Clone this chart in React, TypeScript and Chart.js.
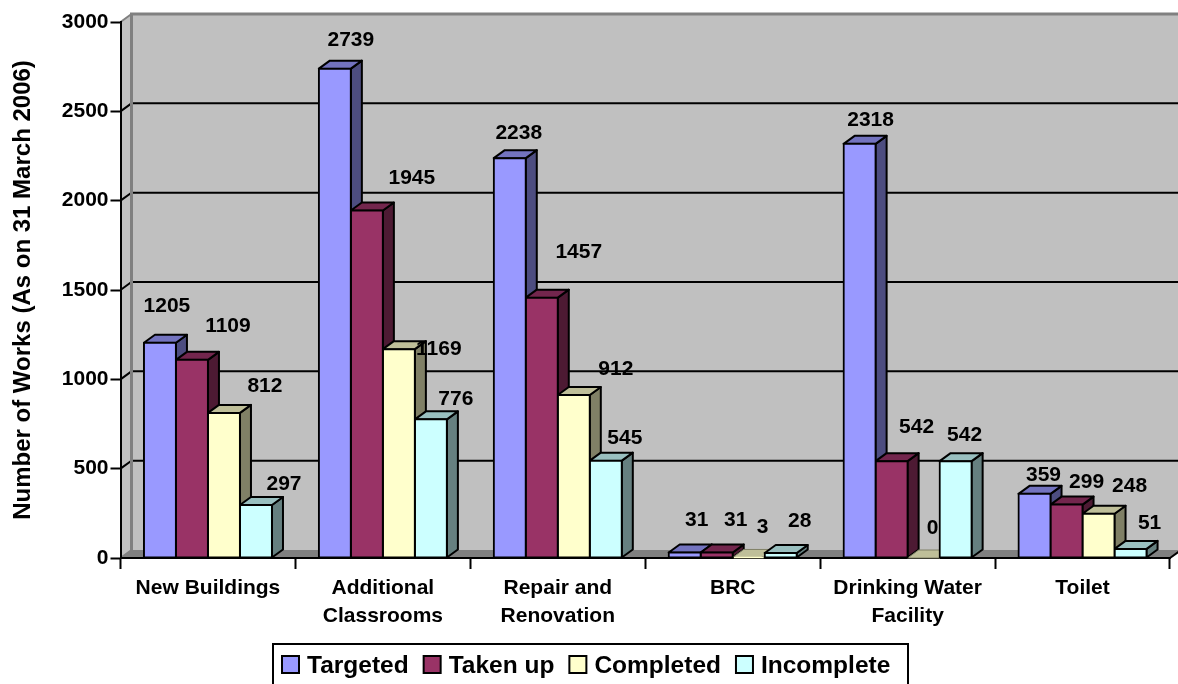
import React, { useEffect, useRef } from "react";
import { Chart, registerables } from "chart.js";

Chart.register(...registerables);

const FONT_FAMILY = '"Liberation Sans", Arial, sans-serif';

const categories = [
  "New Buildings",
  ["Additional", "Classrooms"],
  ["Repair and", "Renovation"],
  "BRC",
  ["Drinking Water", "Facility"],
  "Toilet",
];

const targeted = [1205, 2739, 2238, 31, 2318, 359];
const takenUp = [1109, 1945, 1457, 31, 542, 299];
const completed = [812, 1169, 912, 3, 0, 248];
const incomplete = [297, 776, 545, 28, 542, 51];

// Hand placement of each value label relative to the top of its bar: [dx, dy].
const targetedNudge = [[7, -37], [16, -28], [9, -25], [12, -32], [11, -24], [9, -19]];
const takenUpNudge = [[36, -34], [45, -32], [37, -45], [19, -32], [25, -34], [20, -22]];
const completedNudge = [[41, -27], [40, 0], [42, -26], [14, -30], [9, -30], [31, -27]];
const incompleteNudge = [[28, -21], [25, -20], [19, -22], [19, -32], [9, -26], [19, -26]];

const seriesStyles = [
  { label: "Targeted", data: targeted, nudge: targetedNudge, front: "#9999FF", top: "#7373BF", side: "#4D4D80" },
  { label: "Taken up", data: takenUp, nudge: takenUpNudge, front: "#993366", top: "#73264D", side: "#4D1A33" },
  { label: "Completed", data: completed, nudge: completedNudge, front: "#FFFFCC", top: "#BFBF99", side: "#808066" },
  { label: "Incomplete", data: incomplete, nudge: incompleteNudge, front: "#CCFFFF", top: "#99BFBF", side: "#668080" },
];

// Depth of the fake 3D projection, in pixels.
const DEPTH_X = 11;
const DEPTH_Y = 8;

const WALL = "#C0C0C0";
const WALL_EDGE = "#808080";

const poly = (ctx: CanvasRenderingContext2D, pts: number[][]) => {
  ctx.beginPath();
  pts.forEach(([x, y], i) => (i ? ctx.lineTo(x, y) : ctx.moveTo(x, y)));
  ctx.closePath();
};

// Back wall, side wall, floor and the gridlines that run across them.
const roomPlugin = {
  id: "room",
  beforeDraw(chart: any) {
    const { ctx, chartArea: a, scales } = chart;
    const back = a.left + DEPTH_X;
    const roomRight = a.right + DEPTH_X;
    ctx.save();
    ctx.fillStyle = WALL;
    ctx.fillRect(back, a.top - DEPTH_Y, roomRight - back, a.bottom - a.top);
    poly(ctx, [
      [a.left, a.top],
      [back, a.top - DEPTH_Y],
      [back, a.bottom - DEPTH_Y],
      [a.left, a.bottom],
    ]);
    ctx.fill();

    ctx.fillStyle = WALL_EDGE;
    poly(ctx, [
      [a.left, a.bottom],
      [back, a.bottom - DEPTH_Y],
      [roomRight, a.bottom - DEPTH_Y],
      [a.right, a.bottom],
    ]);
    ctx.fill();

    ctx.lineWidth = 2;
    ctx.strokeStyle = "#000000";
    for (const t of scales.y.ticks) {
      if (t.value === 0 || t.value === scales.y.max) continue;
      const y = scales.y.getPixelForValue(t.value);
      ctx.beginPath();
      ctx.moveTo(a.left, y);
      ctx.lineTo(back, y - DEPTH_Y);
      ctx.lineTo(roomRight, y - DEPTH_Y);
      ctx.stroke();
    }

    ctx.strokeStyle = WALL_EDGE;
    ctx.lineWidth = 3;
    ctx.beginPath();
    ctx.moveTo(roomRight, a.top - DEPTH_Y);
    ctx.lineTo(back, a.top - DEPTH_Y);
    ctx.lineTo(back, a.bottom - DEPTH_Y);
    ctx.stroke();
    ctx.lineWidth = 2;
    ctx.beginPath();
    ctx.moveTo(a.left, a.top);
    ctx.lineTo(back, a.top - DEPTH_Y);
    ctx.moveTo(a.left, a.bottom);
    ctx.lineTo(back, a.bottom - DEPTH_Y);
    ctx.stroke();
    ctx.strokeStyle = "#000000";
    ctx.beginPath();
    ctx.moveTo(a.right, a.bottom);
    ctx.lineTo(roomRight, a.bottom - DEPTH_Y);
    ctx.stroke();
    ctx.restore();
  },
};

// Top and right faces of every bar, painted left to right; the library then
// draws the front faces over them, which hides what a neighbour would cover.
const barDepthPlugin = {
  id: "barDepth",
  beforeDatasetsDraw(chart: any) {
    const { ctx } = chart;
    ctx.save();
    ctx.lineJoin = "round";
    seriesStyles.forEach((style, s) => {
      chart.getDatasetMeta(s).data.forEach((bar: any) => {
        const half = bar.width / 2;
        const x1 = bar.x - half;
        const x2 = bar.x + half;
        const yTop = bar.y;
        const yBase = bar.base;
        const flat = yBase - yTop < 3;
        ctx.lineWidth = flat ? 1 : 2;
        ctx.strokeStyle = flat ? style.side : "#000000";
        ctx.fillStyle = style.side;
        poly(ctx, [
          [x2, yTop],
          [x2 + DEPTH_X, yTop - DEPTH_Y],
          [x2 + DEPTH_X, yBase - DEPTH_Y],
          [x2, yBase],
        ]);
        ctx.fill();
        ctx.stroke();
        ctx.fillStyle = style.top;
        poly(ctx, [
          [x1, yTop],
          [x1 + DEPTH_X, yTop - DEPTH_Y],
          [x2 + DEPTH_X, yTop - DEPTH_Y],
          [x2, yTop],
        ]);
        ctx.fill();
        ctx.stroke();
      });
    });
    ctx.restore();
  },
};

const valueLabelPlugin = {
  id: "valueLabels",
  afterDatasetsDraw(chart: any) {
    const { ctx } = chart;
    ctx.save();
    ctx.font = `bold 21px ${FONT_FAMILY}`;
    ctx.fillStyle = "#000000";
    ctx.textAlign = "center";
    ctx.textBaseline = "middle";
    seriesStyles.forEach((style, s) => {
      chart.getDatasetMeta(s).data.forEach((bar: any, i: number) => {
        const [dx, dy] = style.nudge[i];
        ctx.fillText(String(style.data[i]), bar.x + dx, bar.y + dy);
      });
    });
    ctx.restore();
  },
};

// Boxed key along the bottom edge of the canvas.
const keyPlugin = {
  id: "key",
  afterDraw(chart: any) {
    const { ctx, height } = chart;
    const boxLeft = 273;
    const boxRight = 908;
    const boxTop = 644;
    ctx.save();
    ctx.fillStyle = "#FFFFFF";
    ctx.strokeStyle = "#000000";
    ctx.lineWidth = 2;
    ctx.beginPath();
    ctx.rect(boxLeft, boxTop, boxRight - boxLeft, height + 10 - boxTop);
    ctx.fill();
    ctx.stroke();

    ctx.font = `bold 24.5px ${FONT_FAMILY}`;
    ctx.textBaseline = "middle";
    ctx.textAlign = "left";
    let x = 282;
    for (const style of seriesStyles) {
      ctx.fillStyle = style.front;
      ctx.beginPath();
      ctx.rect(x, 656, 17, 17);
      ctx.fill();
      ctx.stroke();
      ctx.fillStyle = "#000000";
      ctx.fillText(style.label, x + 25, 666);
      x += 25 + ctx.measureText(style.label).width + 15;
    }
    ctx.restore();
  },
};

export default function App() {
  const canvasRef = useRef<HTMLCanvasElement | null>(null);

  useEffect(() => {
    if (!canvasRef.current) return;
    const chart = new Chart(canvasRef.current, {
      type: "bar",
      data: {
        labels: categories as any,
        datasets: seriesStyles.map((style) => ({
          label: style.label,
          data: style.data,
          backgroundColor: style.front,
          borderColor: "#000000",
          borderWidth: 2,
          borderSkipped: false,
          inflateAmount: 1,
          categoryPercentage: 0.732,
          barPercentage: 1,
          clip: false as any,
        })),
      },
      options: {
        animation: false,
        responsive: false,
        layout: { autoPadding: false, padding: { top: 22, right: 8, left: 0, bottom: 0 } },
        plugins: { legend: { display: false }, tooltip: { enabled: false } },
        scales: {
          x: {
            afterFit: (scale: any) => {
              scale.height = 126;
            },
            grid: { drawOnChartArea: false, color: "#000000", tickLength: 11, tickWidth: 2 },
            border: { color: "#000000", width: 2 },
            ticks: {
              color: "#000000",
              autoSkip: false,
              maxRotation: 0,
              padding: 5,
              font: { family: FONT_FAMILY, size: 21, weight: "bold", lineHeight: 1.333 },
            },
          },
          y: {
            min: 0,
            max: 3000,
            afterFit: (scale: any) => {
              scale.width = 120.5;
            },
            grid: { drawOnChartArea: false, color: "#000000", tickLength: 10, tickWidth: 2 },
            border: { color: "#000000", width: 2 },
            ticks: {
              stepSize: 500,
              color: "#000000",
              padding: 2,
              callback: (value: any) => String(value),
              font: { family: FONT_FAMILY, size: 21, weight: "bold" },
            },
            title: {
              display: true,
              text: "Number of Works (As on 31 March 2006)",
              color: "#000000",
              padding: { top: 9, bottom: 0 },
              font: { family: FONT_FAMILY, size: 24, weight: "bold" },
            },
          },
        },
      },
      plugins: [roomPlugin, barDepthPlugin, valueLabelPlugin, keyPlugin],
    } as any);
    return () => chart.destroy();
  }, []);

  return (
    <div style={{ position: "absolute", left: 0, top: 0, width: 1178, height: 684, overflow: "hidden", background: "#FFFFFF" }}>
      <canvas ref={canvasRef} width={1178} height={684} style={{ display: "block" }} />
    </div>
  );
}
